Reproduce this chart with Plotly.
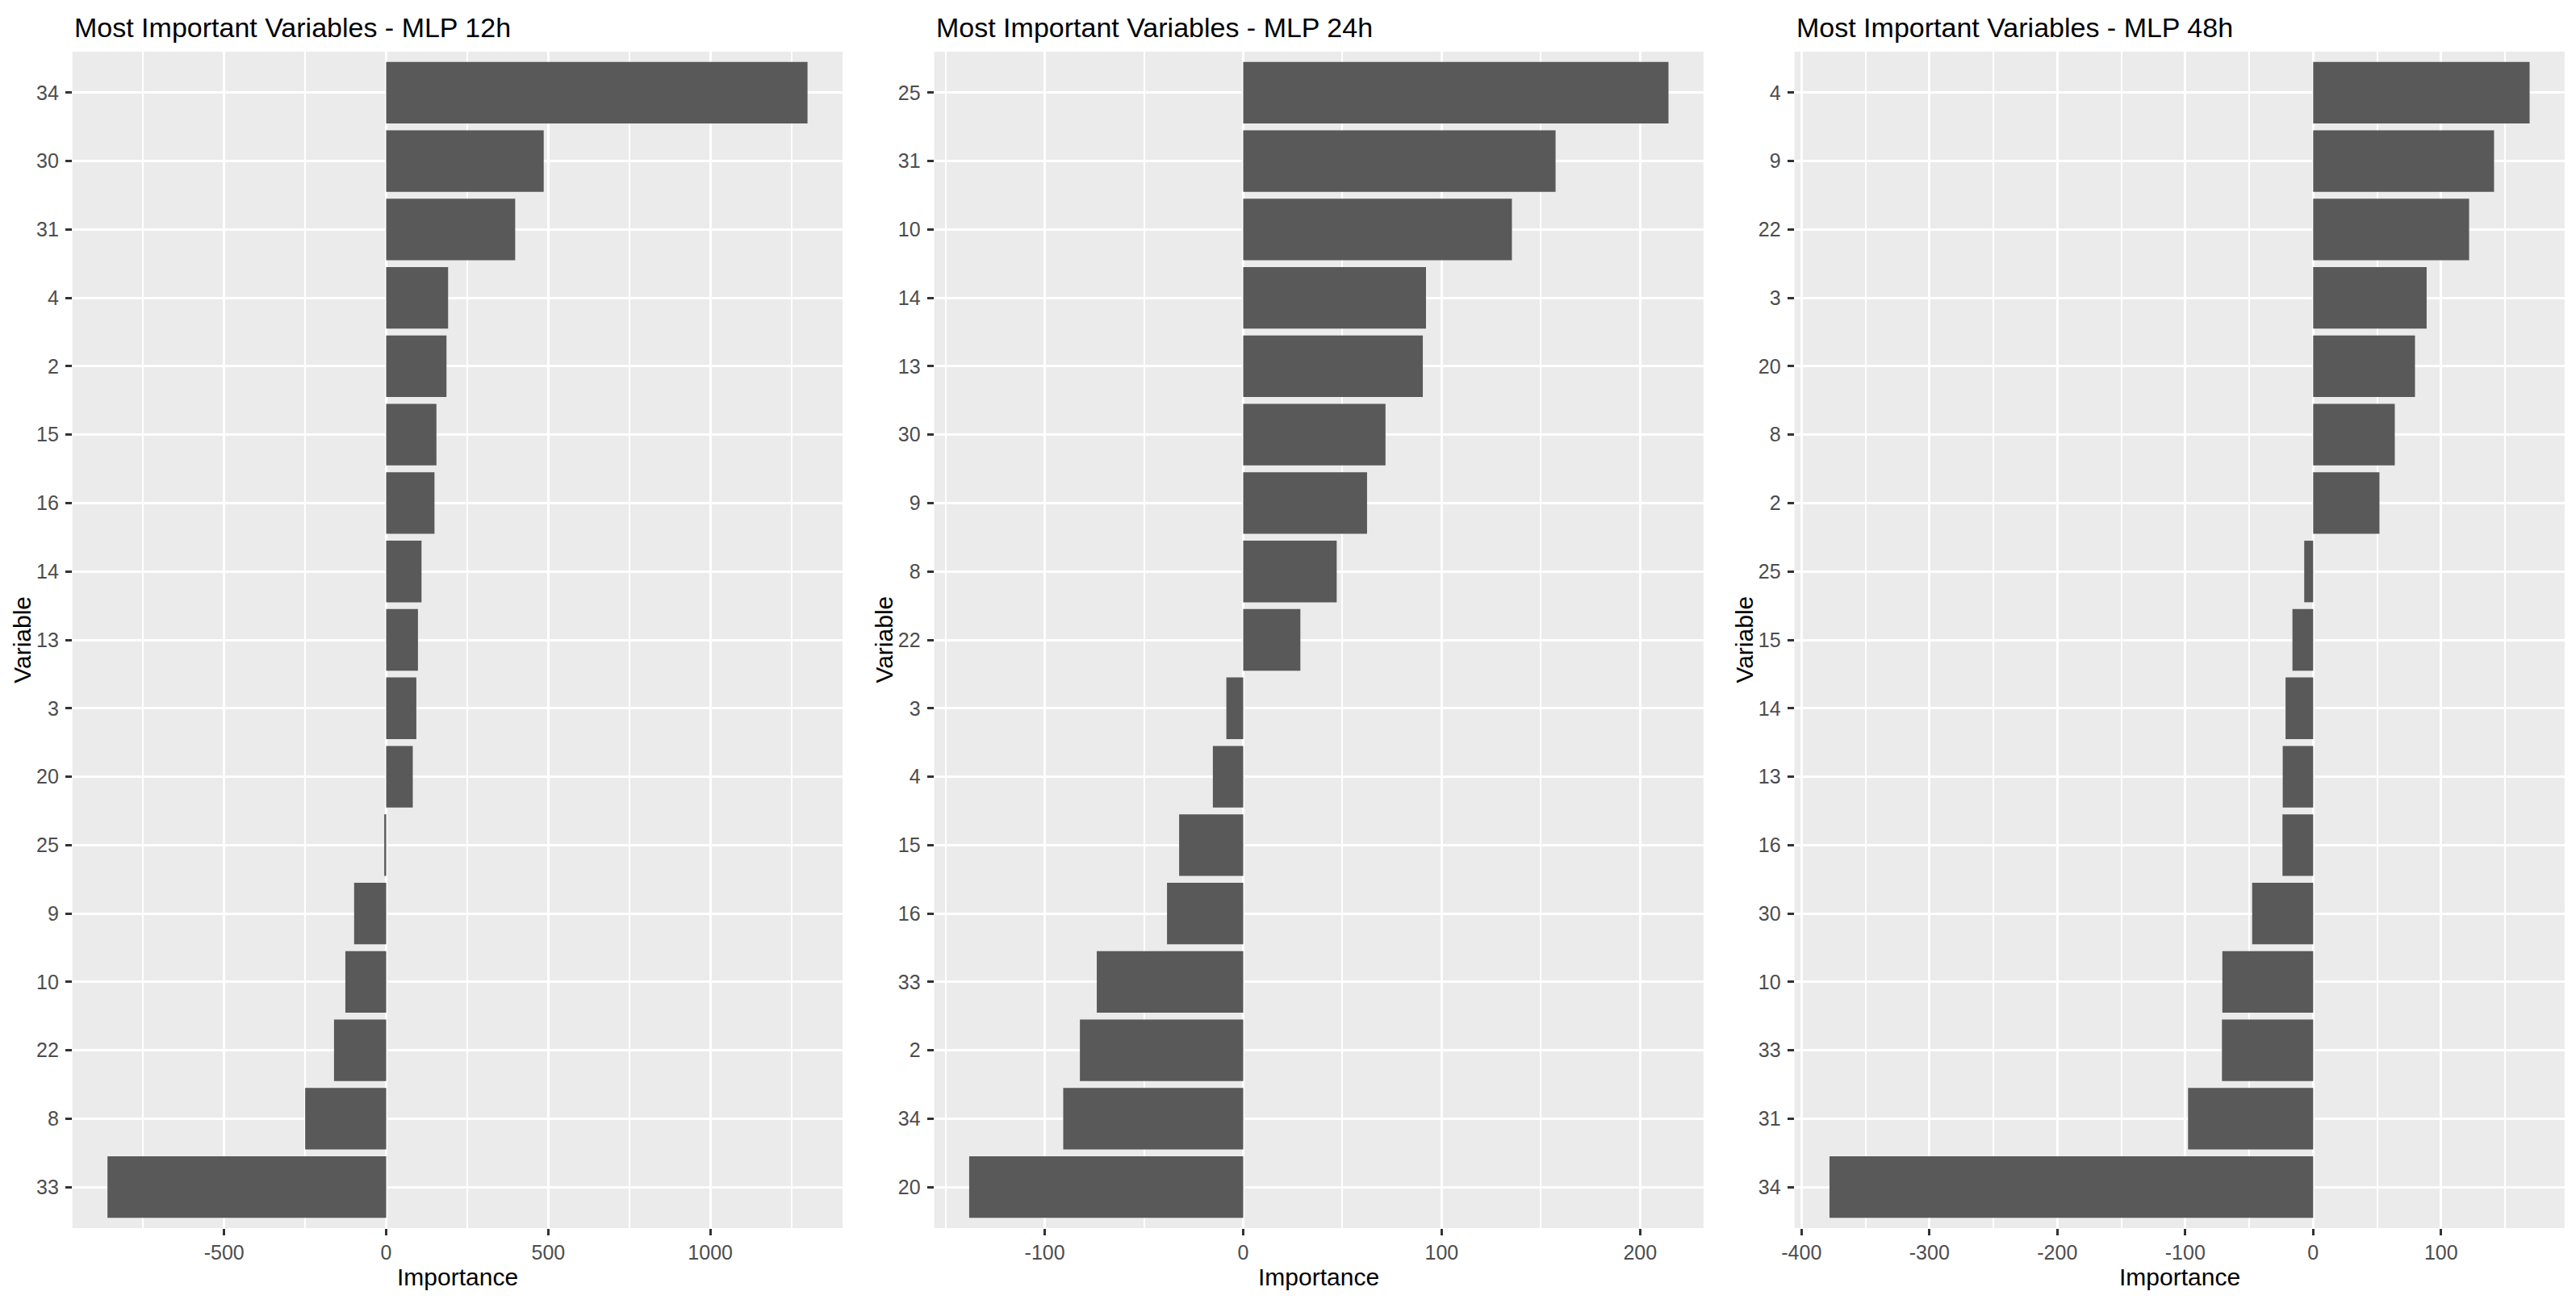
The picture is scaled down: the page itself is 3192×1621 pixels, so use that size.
import plotly.graph_objects as go

# ---------------- data ----------------
vars_12h = ["34", "30", "31", "4", "2", "15", "16", "14", "13", "3", "20", "25", "9", "10", "22", "8", "33"]
imp_12h = [1300, 486, 398, 191, 186, 155, 149, 109, 98, 93, 82, -6, -99, -126, -161, -250, -860]

vars_24h = ["25", "31", "10", "14", "13", "30", "9", "8", "22", "3", "4", "15", "16", "33", "2", "34", "20"]
imp_24h = [214.3, 157.4, 135.4, 92.1, 90.5, 71.7, 62.4, 47.1, 28.8, -8.5, -15.3, -32.3, -38.4, -73.8, -82.3, -90.7, -138.1]

vars_48h = ["4", "9", "22", "3", "20", "8", "2", "25", "15", "14", "13", "16", "30", "10", "33", "31", "34"]
imp_48h = [169.2, 141.4, 121.9, 88.7, 79.6, 63.8, 51.8, -7.0, -16.2, -21.6, -23.8, -24.0, -47.7, -71.0, -71.3, -97.8, -378.1]

ticks_12h = [-500, 0, 500, 1000]
ticks_24h = [-100, 0, 100, 200]
ticks_48h = [-400, -300, -200, -100, 0, 100]

titles = ["Most Important Variables - MLP 12h",
          "Most Important Variables - MLP 24h",
          "Most Important Variables - MLP 48h"]

# ---------------- layout geometry ----------------
# the page body has the browser's default 8px margin, so the figure is
# drawn 8px smaller and all target positions are shifted by 8px
OFF = 8
W, H = 3192 - OFF, 1621 - OFF
FONT = "Liberation Sans, Arial, sans-serif"
panel_ref = [(89.8, 1044.0), (1157.6, 2110.8), (2223.6, 3177.9)]
panel_px = [(a - OFF, b - OFF) for a, b in panel_ref]
y_top_px, y_bot_px = 64 - OFF, 1522 - OFF
ydom = [1 - y_bot_px / H, 1 - y_top_px / H]

panels = [(vars_12h, imp_12h, ticks_12h), (vars_24h, imp_24h, ticks_24h), (vars_48h, imp_48h, ticks_48h)]

fig = go.Figure()
layout = dict(
    width=W, height=H,
    margin=dict(l=0, r=0, t=0, b=0, autoexpand=False),
    paper_bgcolor="white",
    plot_bgcolor="#EBEBEB",
    showlegend=False,
    font=dict(family=FONT, color="#4D4D4D"),
    annotations=[],
)

for i, (cats, vals, ticks) in enumerate(panels):
    n = "" if i == 0 else str(i + 1)
    fig.add_trace(go.Bar(
        x=vals, y=cats, orientation="h",
        xaxis="x" + n, yaxis="y" + n,
        width=0.9,
        marker=dict(color="#595959", line=dict(width=0)),
        showlegend=False,
    ))
    lo = min(min(vals), 0)
    hi = max(max(vals), 0)
    pad = 0.05 * (hi - lo)
    step = ticks[1] - ticks[0]
    x0, x1 = panel_px[i]
    layout["xaxis" + n] = dict(
        domain=[x0 / W, x1 / W], anchor="y" + n,
        range=[lo - pad, hi + pad], automargin=False,
        tickmode="array", tickvals=ticks, ticktext=[str(t) for t in ticks],
        ticks="outside", ticklen=8, tickwidth=2.5, tickcolor="#333333",
        tickfont=dict(size=25, color="#4D4D4D", family=FONT),
        showgrid=True, gridcolor="white", gridwidth=2.5,
        minor=dict(tickmode="linear", tick0=0, dtick=step / 2, showgrid=True,
                   gridcolor="white", gridwidth=1.5, ticks=""),
        zeroline=False, showline=False,
    )
    layout["yaxis" + n] = dict(
        domain=ydom, anchor="x" + n, automargin=False,
        type="category",
        categoryorder="array", categoryarray=list(reversed(cats)),
        range=[-0.6, len(cats) - 1 + 0.6],
        ticks="outside", ticklen=8, tickwidth=2.5, tickcolor="#333333",
        ticklabelstandoff=3,
        tickfont=dict(size=25, color="#4D4D4D", family=FONT),
        showgrid=True, gridcolor="white", gridwidth=2.5,
        zeroline=False, showline=False,
    )
    # panel title
    layout["annotations"].append(dict(
        text=titles[i], xref="paper", yref="paper",
        x=x0 / W, y=1 - (34 - OFF) / H, xanchor="left", yanchor="middle",
        showarrow=False, font=dict(size=34, color="black", family=FONT),
    ))
    # x axis title
    layout["annotations"].append(dict(
        text="Importance", xref="paper", yref="paper",
        x=(x0 + x1) / 2 / W, y=1 - (1582 - OFF) / H, xanchor="center", yanchor="middle",
        showarrow=False, font=dict(size=30, color="black", family=FONT),
    ))
    # y axis title
    layout["annotations"].append(dict(
        text="Variable", xref="paper", yref="paper", textangle=-90,
        x=(x0 - 63) / W, y=(ydom[0] + ydom[1]) / 2, xanchor="center", yanchor="middle",
        showarrow=False, font=dict(size=30, color="black", family=FONT),
    ))

fig.update_layout(**layout)
fig.write_html("out.html")
